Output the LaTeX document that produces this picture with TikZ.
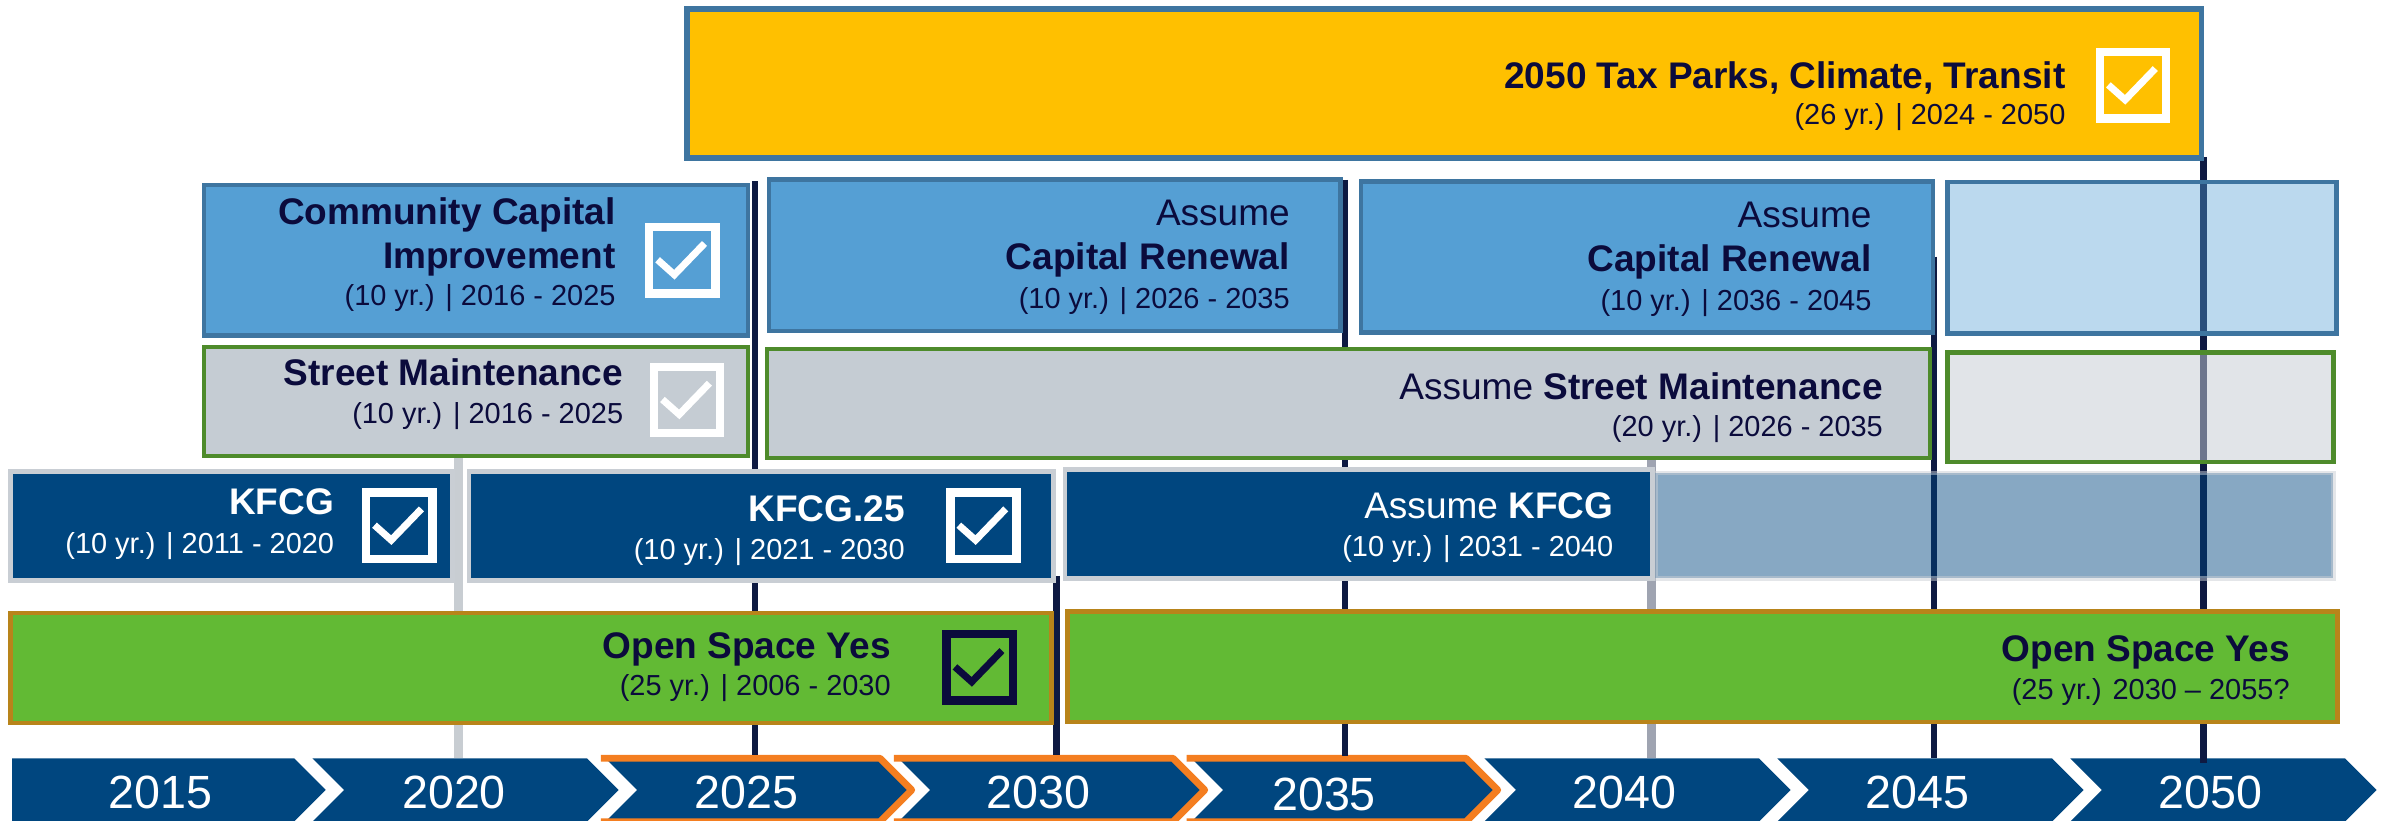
\documentclass[tikz,border=0pt]{standalone}
\usepackage{fontspec}
\setmainfont{Liberation Sans}
\definecolor{yellowF}{HTML}{FFC000}
\definecolor{bordBlue}{HTML}{3E75A0}
\definecolor{medBlue}{HTML}{559FD4}
\definecolor{grayF}{HTML}{C5CCD3}
\definecolor{greenB}{HTML}{4E8B2B}
\definecolor{darkBlue}{HTML}{00467F}
\definecolor{kBorder}{HTML}{C9CED4}
\definecolor{greenF}{HTML}{62BA34}
\definecolor{brownB}{HTML}{B8841A}
\definecolor{navyT}{HTML}{0B0B3C}
\definecolor{lineNavy}{HTML}{0E1A42}
\definecolor{lineGrayA}{HTML}{C8CDD2}
\definecolor{lineGrayB}{HTML}{9FA4B1}
\definecolor{orangeC}{HTML}{F47E20}
\newcommand{\ckbox}[3]{%
  \draw[line width=5.5, #3] (#1-21.75,#2-21.75) rectangle (#1+21.75,#2+21.75);
  \draw[line width=4.6, #3, line join=miter] (#1-16.2,#2-0.3) -- (#1-5.2,#2+9.5) -- (#1+14.6,#2-11);}
\begin{document}
\begin{tikzpicture}[x=1pt,y=-1pt,
  ttl/.style={anchor=base east, inner sep=0, text=navyT, font=\fontsize{24.3}{28}\selectfont\bfseries},
  reg/.style={anchor=base east, inner sep=0, text=navyT, font=\fontsize{24.3}{28}\selectfont},
  sub/.style={anchor=base east, inner sep=0, text=navyT, font=\fontsize{19}{22}\selectfont},
  yrlab/.style={anchor=base, inner sep=0, text=white, font=\fontsize{30.6}{34}\selectfont},
  vnavy/.style={draw=lineNavy, line width=4},
  blubox/.style={draw=bordBlue, fill=medBlue, line width=3},
  strbox/.style={draw=greenB, fill=grayF, line width=2.8},
  kbox/.style={draw=kBorder, fill=darkBlue, line width=3},
  osbox/.style={draw=brownB, fill=greenF, line width=2.8},
  chev/.style={fill=darkBlue},
  orng/.style={draw=orangeC, line width=4.5, line join=round}
]
\useasboundingbox (0,0) rectangle (1568,538.2);

% ---- timeline chevrons ----
\fill[chev] (8,497.7) -- (193,497.7) -- (213.8,518.5) -- (193,539.3) -- (8,539.3) -- cycle;
\foreach \i in {1,...,7}{
  \pgfmathsetmacro{\rt}{193+192.3*\i}
  \pgfmathsetmacro{\lt}{205+192.3*(\i-1)}
  \fill[chev] (\lt,497.7) -- (\rt,497.7) -- (\rt+20.8,518.5) -- (\rt,539.3) -- (\lt,539.3) -- (\lt+20.8,518.5) -- cycle;
}
\foreach \i in {2,3,4}{
  \pgfmathsetmacro{\rt}{193+192.3*\i}
  \pgfmathsetmacro{\lt}{205+192.3*(\i-1)}
  \draw[orng] (\lt-3,497.7) -- (\rt,497.7) -- (\rt+20.8,518.5) -- (\rt,539.3) -- (\lt-3,539.3);
}
\node[yrlab] (y2015) at (105.3,530.6) {2015};
\node[yrlab] (y2020) at (298,530.6) {2020};
\node[yrlab] (y2025) at (489.8,530.6) {2025};
\node[yrlab] (y2030) at (681.7,530.6) {2030};
\node[yrlab] (y2035) at (869,532) {2035};
\node[yrlab] (y2040) at (1066,530.6) {2040};
\node[yrlab] (y2045) at (1258.5,530.6) {2045};
\node[yrlab] (y2050) at (1451,530.6) {2050};

% ---- year marker lines ----
\draw[draw=lineGrayA, line width=6] (301,300) -- (301,497.7);
\draw[vnavy] (495.3,119) -- (495.3,495.5);
\draw[vnavy] (693.4,378) -- (693.4,495.5);
\draw[vnavy] (883,118) -- (883,496.5);
\draw[draw=lineGrayB, line width=5.5] (1084,302) -- (1084,497.7);
\draw[vnavy, line width=4.5] (1269.3,168.5) -- (1269.3,497.7);
\draw[vnavy, line width=4.5] (1446.5,103) -- (1446.5,501);

% ---- top row: 2050 tax ----
\draw[draw=bordBlue, fill=yellowF, line width=3.5] (450.8,5.8) rectangle (1444.8,103.8);
\node[ttl] (tax) at (1355.8,58) {2050 Tax Parks, Climate, Transit};
\node[sub] (taxs) at (1355.8,81.5) {(26 yr.) | 2024 - 2050};
\ckbox{1400}{56}{white}

% ---- capital row ----
\draw[blubox] (133.8,121.4) rectangle (490.8,220.1);
\node[ttl] (cci1) at (404.2,147.2) {Community Capital};
\node[ttl] (cci2) at (404.2,176.1) {Improvement};
\node[sub] (ccis) at (404.2,200.6) {(10 yr.) | 2016 - 2025};
\ckbox{447.8}{170.8}{white}

\draw[blubox] (504.8,117.9) rectangle (879.8,217.3);
\node[reg] (cra1) at (846.7,148.1) {Assume};
\node[ttl] (crb1) at (846.7,177.2) {Capital Renewal};
\node[sub] (crs1) at (846.7,202.4) {(10 yr.) | 2026 - 2035};

\draw[blubox] (893.3,119.2) rectangle (1268.8,218.4);
\node[reg] (cra2) at (1228.5,149.4) {Assume};
\node[ttl] (crb2) at (1228.5,178.3) {Capital Renewal};
\node[sub] (crs2) at (1228.5,203.5) {(10 yr.) | 2036 - 2045};

\draw[draw=bordBlue, line width=3, fill=medBlue, fill opacity=0.4] (1278.3,119.5) rectangle (1533.5,219);

% ---- street maintenance row ----
\draw[strbox] (133.7,227.9) rectangle (490.9,299.2);
\node[ttl] (sm1) at (409.2,253.3) {Street Maintenance};
\node[sub] (sms1) at (409.2,277.8) {(10 yr.) | 2016 - 2025};
\ckbox{451}{262.5}{white}

\draw[strbox] (503.2,228.9) rectangle (1266.6,300.6);
\node[reg] (sm2) at (1236,262.1) {Assume \textbf{Street Maintenance}};
\node[sub] (sms2) at (1236,286.2) {(20 yr.) | 2026 - 2035};

\draw[draw=greenB, line width=2.8, fill=grayF, fill opacity=0.52] (1278.2,231.4) rectangle (1531.6,303.3);

% ---- KFCG row ----
\draw[kbox] (7,309.5) rectangle (296.9,380.9);
\node[ttl, text=white] (k1) at (219.5,338) {KFCG};
\node[sub, text=white] (ks1) at (219.5,363.2) {(10 yr.) | 2011 - 2020};
\ckbox{262}{345}{white}

\draw[kbox] (307.7,309.5) rectangle (691.5,380.9);
\node[ttl, text=white] (k2) at (594,342.4) {KFCG.25};
\node[sub, text=white] (ks2) at (594,366.9) {(10 yr.) | 2021 - 2030};
\ckbox{645.5}{345}{white}

\draw[draw=kBorder, draw opacity=0.5, line width=3, fill=darkBlue, fill opacity=0.47] (1086.5,310.5) rectangle (1531.5,379.5);
\draw[kbox] (699.1,308.2) rectangle (1084.5,379.7);
\node[reg, text=white] (k3) at (1059,340.2) {Assume \textbf{KFCG}};
\node[sub, text=white] (ks3) at (1059,365) {(10 yr.) | 2031 - 2040};

% ---- open space row ----
\draw[osbox] (6.9,402.2) rectangle (690.2,474.5);
\node[ttl] (os1) at (584.8,432.1) {Open Space Yes};
\node[sub] (oss1) at (584.8,456.8) {(25 yr.) | 2006 - 2030};
\ckbox{643}{438}{navyT}

\draw[osbox] (700.7,401.4) rectangle (1534.2,474);
\node[ttl] (os2) at (1503,434.3) {Open Space Yes};
\node[sub] (oss2) at (1503,459) {(25 yr.) 2030 -- 2055?};
\end{tikzpicture}
\end{document}
